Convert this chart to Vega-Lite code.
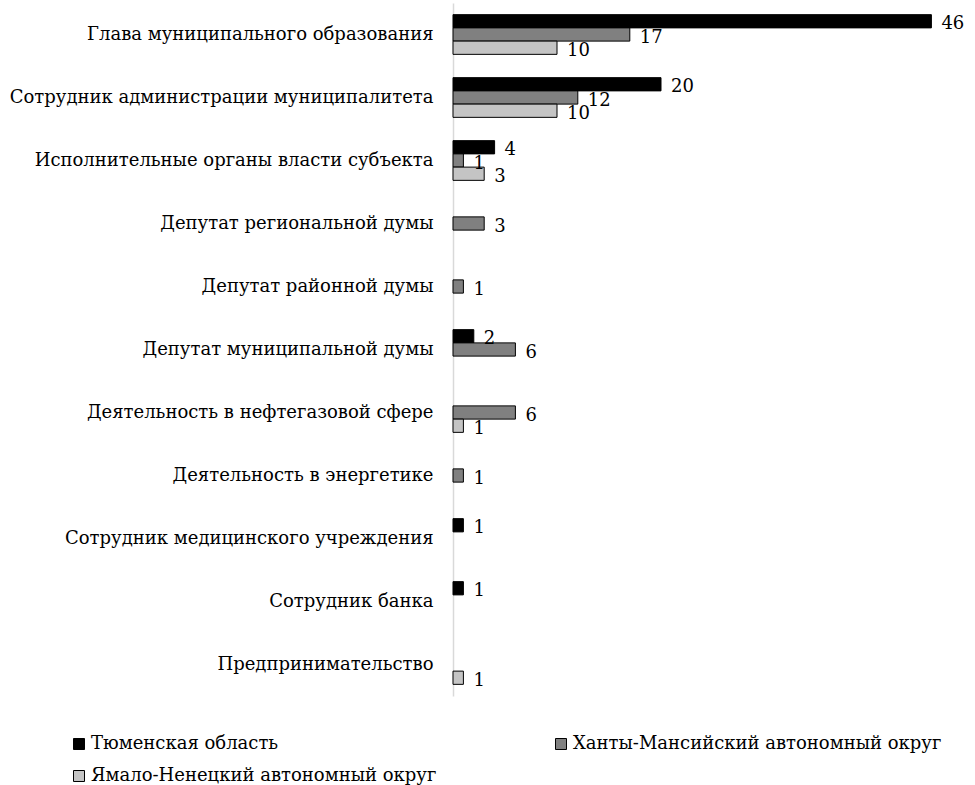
{
  "$schema": "https://vega.github.io/schema/vega-lite/v6.json",
  "autosize": {"type": "none"},
  "padding": {"left": 453, "top": 3, "right": 2, "bottom": 89},
  "width": 520,
  "height": 693,
  "background": "white",
  "config": {
    "view": {"stroke": null},
    "font": "DejaVu Serif"
  },
  "data": {
    "values": [
      {"cat": "Глава муниципального образования", "region": "Тюменская область", "v": 46},
      {"cat": "Глава муниципального образования", "region": "Ханты-Мансийский  автономный округ", "v": 17},
      {"cat": "Глава муниципального образования", "region": "Ямало-Ненецкий автономный округ", "v": 10},
      {"cat": "Сотрудник администрации  муниципалитета", "region": "Тюменская область", "v": 20},
      {"cat": "Сотрудник администрации  муниципалитета", "region": "Ханты-Мансийский  автономный округ", "v": 12},
      {"cat": "Сотрудник администрации  муниципалитета", "region": "Ямало-Ненецкий автономный округ", "v": 10},
      {"cat": "Исполнительные органы власти субъекта", "region": "Тюменская область", "v": 4},
      {"cat": "Исполнительные органы власти субъекта", "region": "Ханты-Мансийский  автономный округ", "v": 1},
      {"cat": "Исполнительные органы власти субъекта", "region": "Ямало-Ненецкий автономный округ", "v": 3},
      {"cat": "Депутат  региональной думы", "region": "Ханты-Мансийский  автономный округ", "v": 3},
      {"cat": "Депутат  районной думы", "region": "Ханты-Мансийский  автономный округ", "v": 1},
      {"cat": "Депутат  муниципальной думы", "region": "Тюменская область", "v": 2},
      {"cat": "Депутат  муниципальной думы", "region": "Ханты-Мансийский  автономный округ", "v": 6},
      {"cat": "Деятельность в нефтегазовой сфере", "region": "Ханты-Мансийский  автономный округ", "v": 6},
      {"cat": "Деятельность в нефтегазовой сфере", "region": "Ямало-Ненецкий автономный округ", "v": 1},
      {"cat": "Деятельность в энергетике", "region": "Ханты-Мансийский  автономный округ", "v": 1},
      {"cat": "Сотрудник медицинского учреждения", "region": "Тюменская область", "v": 1},
      {"cat": "Сотрудник банка", "region": "Тюменская область", "v": 1},
      {"cat": "Предпринимательство", "region": "Ямало-Ненецкий автономный округ", "v": 1}
    ]
  },
  "encoding": {
    "y": {
      "field": "cat",
      "type": "nominal",
      "sort": null,
      "scale": {"paddingInner": 0.37, "paddingOuter": 0.185},
      "axis": {
        "title": null,
        "ticks": false,
        "domainColor": "#d9d9d9",
        "domainWidth": 1.5,
        "labelFont": "DejaVu Serif",
        "labelFontSize": 18,
        "labelColor": "black",
        "labelPadding": 20,
        "labelLimit": 500
      }
    },
    "yOffset": {
      "field": "region",
      "type": "nominal",
      "scale": {"domain": ["Тюменская область", "Ханты-Мансийский  автономный округ", "Ямало-Ненецкий автономный округ"], "paddingInner": 0, "paddingOuter": 0}
    },
    "x": {
      "field": "v",
      "type": "quantitative",
      "scale": {"domain": [0, 50], "nice": false},
      "axis": null
    }
  },
  "layer": [
    {
      "mark": {"type": "bar", "stroke": "black", "strokeWidth": 1},
      "encoding": {
        "fill": {
          "field": "region",
          "type": "nominal",
          "scale": {
            "domain": ["Тюменская область", "Ханты-Мансийский  автономный округ", "Ямало-Ненецкий автономный округ"],
            "range": ["#000000", "#808080", "#c4c4c4"]
          },
          "legend": {
            "title": null,
            "orient": "none",
            "legendX": -383,
            "legendY": 732,
            "direction": "horizontal",
            "columns": 2,
            "columnPadding": 115,
            "rowPadding": 14,
            "symbolType": "square",
            "symbolSize": 121,
            "symbolStrokeColor": "black",
            "symbolStrokeWidth": 1,
            "symbolOffset": 0,
            "labelOffset": 3,
            "labelFont": "DejaVu Serif",
            "labelFontSize": 18,
            "labelColor": "black",
            "labelLimit": 400
          }
        }
      }
    },
    {
      "mark": {"type": "text", "align": "left", "baseline": "middle", "dx": 10, "dy": 3, "fontSize": 18, "font": "DejaVu Serif", "color": "black"},
      "encoding": {
        "text": {"field": "v", "type": "quantitative"}
      }
    }
  ]
}
